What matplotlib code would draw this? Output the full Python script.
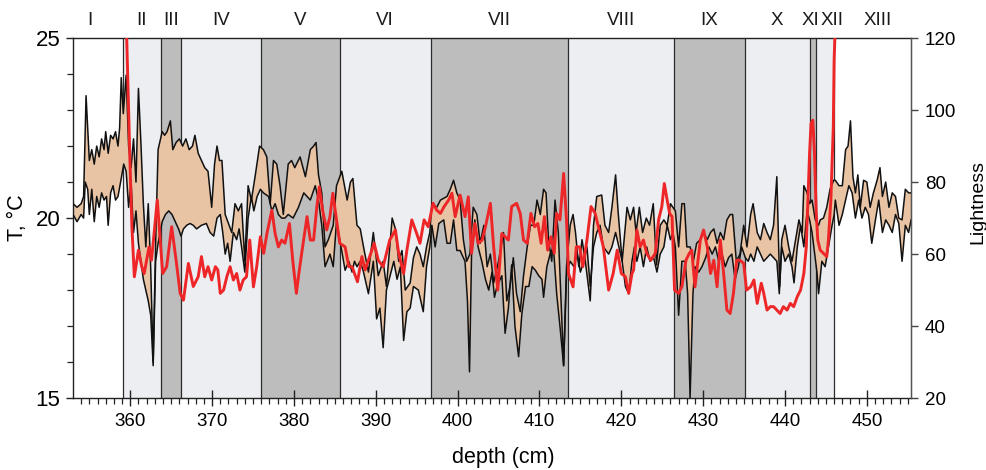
import matplotlib
matplotlib.use("Agg")
import matplotlib.pyplot as plt
import numpy as np

plt.rcParams['font.family'] = ['Liberation Sans', 'DejaVu Sans']

# Lithological / pollen zones (depth boundaries, cm)
zone_names = ['I', 'II', 'III', 'IV', 'V', 'VI', 'VII', 'VIII', 'IX', 'X', 'XI', 'XII', 'XIII']
zone_edges = [353.0, 359.1, 363.75, 366.2, 376.0, 385.6, 396.7, 413.5, 426.4, 435.1,
              443.0, 443.8, 446.0, 455.4]
zone_tone = ['none', 'light', 'dark', 'light', 'dark', 'light', 'dark', 'light', 'dark',
             'light', 'dark', 'light', 'none']

# Temperature reconstruction, upper bound (°C)
depth_hi = [353.0, 353.5, 354.0, 354.3, 354.6, 355.0, 355.3, 355.6, 355.9, 356.2, 356.5, 356.8,
            357.0, 357.3, 357.6, 357.9, 358.2, 358.5, 358.7, 358.9, 359.15, 359.5, 359.8, 360.1,
            360.4, 360.7, 361.0, 361.3, 361.6, 361.9, 362.2, 362.5, 362.8, 363.1, 363.4, 363.9,
            364.2, 364.5, 364.9, 365.2, 365.6, 366.0, 366.4, 366.8, 367.2, 367.6, 367.9, 368.3,
            368.7, 369.1, 369.5, 369.95, 370.3, 370.6, 370.9, 371.2, 371.6, 372.0, 372.4, 372.8,
            373.2, 373.6, 374.0, 374.4, 374.8, 375.25, 375.8, 376.27, 376.68, 377.1, 377.5, 377.9,
            378.3, 378.7, 379.3, 379.7, 380.1, 380.75, 381.4, 382.0, 382.4, 382.7, 383.0, 383.4,
            383.8, 384.2, 384.8, 385.2, 385.85, 386.5, 386.9, 387.2, 387.7, 388.1, 388.5, 389.1,
            389.7, 390.3, 390.9, 391.3, 392.0, 392.4, 392.8, 393.2, 393.6, 394.2, 394.6, 395.0,
            395.4, 395.8, 396.2, 396.6, 396.85, 397.45, 397.9, 398.3, 398.7, 399.1, 399.5, 399.9,
            400.3, 400.7, 401.1, 401.5, 401.9, 402.35, 402.75, 403.2, 403.6, 404.0, 404.4, 405.0,
            405.6, 406.0, 406.4, 406.8, 407.2, 407.65, 408.05, 408.5, 408.9, 409.3, 409.7, 410.1,
            410.5, 410.8, 411.1, 411.5, 411.9, 412.3, 412.6, 412.95, 413.3, 413.75, 414.1, 414.4,
            414.8, 415.2, 415.6, 416.2, 416.6, 417.0, 417.6, 418.0, 418.45, 418.85, 419.3, 419.6,
            420.1, 420.7, 421.1, 421.5, 421.8, 422.2, 422.6, 423.05, 423.45, 423.9, 424.3, 424.75,
            425.2, 425.6, 426.0, 426.3, 426.6, 427.0, 427.4, 427.7, 428.0, 428.4, 428.8, 429.2,
            429.65, 430.05, 430.5, 430.9, 431.3, 431.7, 432.1, 432.5, 432.9, 433.3, 433.6, 434.05,
            434.5, 434.95, 435.35, 435.8, 436.1, 436.6, 437.0, 437.4, 437.8, 438.2, 438.6, 439.0,
            439.35, 439.6, 440.0, 440.45, 440.85, 441.3, 441.7, 442.1, 442.3, 442.7, 443.0, 443.3,
            443.7, 444.1, 444.3, 444.7, 445.1, 445.5, 445.95, 446.15, 446.6, 447.0, 447.4, 447.7,
            448.0, 448.3, 448.6, 448.9, 449.2, 449.6, 450.0, 450.4, 450.8, 451.25, 451.6, 451.9,
            452.3, 452.7, 453.1, 453.5, 453.9, 454.3, 454.7, 455.1, 455.4]
temp_hi = [20.4, 20.3, 20.4, 20.6, 23.4, 21.6, 21.9, 21.5, 22.0, 21.7, 22.2, 21.9,
           22.4, 21.8, 22.3, 22.2, 22.4, 22.0, 22.5, 23.9, 22.9, 23.97, 22.0, 21.4,
           22.2, 21.0, 23.6, 22.1, 20.4, 19.2, 20.4, 18.6, 16.0, 19.3, 21.9, 22.4,
           22.3, 22.4, 22.7, 21.9, 22.1, 22.2, 22.0, 22.2, 21.9, 22.0, 22.3, 21.8,
           21.6, 21.4, 21.3, 20.3, 21.5, 22.0, 21.6, 21.6, 20.1, 19.85, 19.6, 20.4,
           20.2, 20.4, 18.8, 20.9, 20.5, 21.15, 22.0, 21.9, 21.7, 20.4, 21.6, 21.5,
           20.9, 20.1, 21.5, 21.6, 21.4, 21.7, 21.15, 21.9, 22.0, 22.1, 21.2, 20.7,
           19.2, 19.4, 19.8, 20.9, 21.3, 20.5, 21.0, 21.1, 19.8, 19.7, 19.2, 18.5,
           19.6, 18.4, 18.8, 18.1, 20.0, 19.7, 18.8, 19.1, 18.0, 18.2, 18.9, 19.2,
           19.0, 18.65, 19.2, 19.6, 20.4, 20.3, 20.5, 20.55, 20.6, 20.8, 21.05, 20.7,
           20.5, 19.4, 18.8, 19.0, 20.3, 20.1, 19.3, 19.8, 18.65, 19.0, 18.2, 18.8,
           19.6, 17.7, 18.1, 18.9, 17.9, 17.4, 18.4, 19.2, 19.8, 19.8, 20.5, 20.1,
           20.8, 20.7, 19.4, 18.8, 20.5, 19.6, 17.9, 15.9, 18.65, 19.8, 20.1, 19.6,
           18.65, 19.4, 18.8, 17.7, 19.8, 20.6, 20.64, 19.8, 19.6, 20.3, 21.2, 20.2,
           18.8, 20.3, 19.95, 20.3, 19.6, 20.3, 19.6, 20.0, 19.8, 20.4, 18.7, 19.8,
           19.95, 19.8, 20.4, 20.3, 20.2, 19.2, 20.4, 20.4, 19.2, 19.2, 18.8, 19.3,
           19.4, 19.6, 19.4, 19.6, 19.7, 19.3, 19.6, 19.4, 19.95, 20.1, 20.1, 18.8,
           19.0, 19.8, 19.2, 20.1, 20.4, 19.6, 19.4, 19.85, 19.6, 19.4, 19.8, 21.15,
           18.1, 19.4, 19.8, 19.2, 18.8, 19.4, 19.95, 19.6, 20.9, 20.7, 20.4, 20.5,
           19.95, 19.8, 19.95, 20.0, 20.3, 20.8, 21.05, 21.05, 20.9, 20.9, 21.9, 22.0,
           22.7, 21.15, 20.7, 21.2, 20.3, 21.05, 21.0, 20.3, 20.7, 21.05, 21.4, 20.6,
           21.0, 20.3, 20.7, 20.6, 20.0, 19.95, 20.8, 20.7, 20.7]

# Temperature reconstruction, lower bound (°C)
depth_lo = [353.0, 353.5, 354.0, 354.3, 354.5, 354.8, 355.0, 355.3, 355.6, 355.9, 356.2, 356.5,
            356.8, 357.1, 357.3, 357.6, 357.9, 358.2, 358.5, 358.9, 359.2, 359.5, 359.8, 360.1,
            360.4, 360.7, 361.0, 361.3, 361.6, 361.9, 362.2, 362.5, 362.8, 363.1, 363.4, 363.9,
            364.3, 364.7, 365.1, 365.5, 365.9, 366.2, 366.5, 366.9, 367.3, 367.7, 368.1, 368.7,
            369.3, 369.75, 370.2, 370.6, 371.0, 371.3, 371.6, 371.9, 372.2, 372.6, 373.0, 373.3,
            373.6, 374.0, 374.4, 374.8, 375.1, 375.5, 375.9, 376.27, 376.9, 377.3, 377.7, 378.1,
            378.5, 378.9, 379.3, 379.9, 380.55, 381.2, 382.0, 382.6, 383.0, 383.4, 383.8, 384.4,
            384.8, 385.2, 385.6, 386.25, 386.7, 387.1, 387.4, 387.7, 388.1, 388.5, 389.1, 389.7,
            390.1, 390.5, 390.9, 391.3, 391.75, 392.2, 392.6, 393.0, 393.4, 393.8, 394.2, 394.6,
            395.2, 395.8, 396.2, 396.6, 396.85, 397.25, 397.7, 398.3, 398.7, 399.1, 399.5, 399.9,
            400.3, 400.9, 401.2, 401.45, 401.7, 402.1, 402.5, 402.95, 403.4, 403.8, 404.2, 404.5,
            404.8, 405.4, 405.8, 406.2, 406.6, 407.0, 407.45, 407.85, 408.3, 408.7, 409.1, 409.5,
            409.9, 410.3, 410.5, 410.9, 411.3, 411.7, 412.1, 412.5, 412.95, 413.3, 413.55, 413.75,
            414.2, 414.6, 415.0, 415.4, 415.8, 416.2, 416.6, 417.0, 417.4, 417.8, 418.45, 418.85,
            419.3, 419.7, 420.1, 420.5, 420.9, 421.3, 421.6, 421.9, 422.3, 422.7, 423.1, 423.5,
            423.95, 424.35, 424.75, 425.2, 425.6, 426.0, 426.3, 426.6, 427.0, 427.4, 427.8, 428.1,
            428.4, 428.75, 429.0, 429.45, 429.85, 430.3, 430.7, 431.1, 431.5, 431.9, 432.3, 432.7,
            433.1, 433.5, 433.9, 434.3, 434.7, 435.15, 435.5, 435.8, 436.2, 436.6, 437.0, 437.4,
            437.8, 438.2, 438.6, 439.0, 439.3, 439.6, 440.0, 440.45, 440.85, 441.1, 441.5, 441.9,
            442.3, 442.7, 443.0, 443.3, 443.9, 444.1, 444.5, 444.9, 445.3, 445.75, 446.0, 446.15,
            446.6, 447.0, 447.4, 447.8, 448.2, 448.6, 449.0, 449.4, 449.8, 450.2, 450.6, 451.05,
            451.45, 451.9, 452.3, 452.7, 453.1, 453.5, 453.9, 454.3, 454.7, 455.1, 455.4]
temp_lo = [20.1, 19.9, 20.1, 20.0, 21.0, 20.8, 20.1, 20.8, 19.9, 20.6, 20.3, 20.7,
           20.5, 20.6, 19.8, 20.7, 20.9, 20.5, 20.6, 21.1, 21.5, 21.3, 20.3, 21.0,
           19.6, 20.2, 19.3, 18.8, 18.3, 18.0, 17.7, 17.3, 15.9, 18.8, 19.3, 19.9,
           20.1, 20.2, 20.1, 19.9, 19.7, 19.5, 19.7, 19.8, 19.85, 19.8, 19.7, 19.8,
           19.85, 19.6, 19.5, 20.0, 20.1, 19.6, 19.0, 19.3, 18.8, 19.6, 19.4, 19.7,
           19.2, 18.5, 20.0, 20.6, 20.2, 20.6, 20.8, 20.7, 20.6, 20.2, 20.4, 20.1,
           20.0, 20.0, 20.1, 20.0, 20.3, 20.7, 20.5, 20.9, 20.5, 19.8, 18.65, 19.0,
           18.65, 19.9, 19.4, 18.55, 18.8, 18.5, 18.8, 18.65, 18.8, 18.5, 17.9, 18.8,
           17.2, 17.5, 16.4, 18.0, 18.4, 18.8, 18.3, 18.65, 16.6, 17.4, 17.5, 18.1,
           18.0, 17.4, 18.65, 19.2, 19.8, 19.2, 19.85, 19.95, 19.3, 19.3, 19.95, 19.1,
           19.1, 18.8, 17.7, 15.73, 19.0, 19.95, 19.2, 18.8, 18.3, 18.0, 18.5, 17.8,
           18.1, 18.4, 16.8, 17.5, 18.7, 17.0, 16.15, 17.35, 18.1, 18.1, 18.65, 18.55,
           18.4, 18.3, 17.8, 18.65, 19.0, 19.2, 17.9, 17.0, 15.9, 18.4, 18.65, 18.8,
           18.65, 19.0, 18.5, 18.8, 19.2, 18.1, 19.2, 19.6, 19.8, 19.2, 19.0, 19.2,
           19.6, 19.2, 18.8, 18.1, 17.9, 18.8, 19.2, 18.8, 19.2, 18.65, 19.2, 18.8,
           18.9, 18.5, 19.0, 19.2, 19.8, 19.4, 19.6, 19.2, 17.3, 18.8, 18.8, 17.9,
           15.0, 17.9, 18.65, 18.5, 18.65, 18.9, 19.2, 19.0, 19.2, 18.8, 19.0, 18.65,
           18.9, 19.0, 18.3, 18.65, 19.2, 18.9, 18.8, 19.0, 18.8, 19.2, 19.0, 18.8,
           18.9, 19.0, 18.9, 18.8, 17.9, 19.2, 18.8, 19.0, 18.65, 18.2, 19.2, 19.8,
           19.2, 20.2, 19.95, 19.6, 18.5, 17.9, 18.8, 18.65, 19.2, 19.8, 20.1, 20.5,
           19.8, 20.1, 20.5, 20.9, 20.7, 20.0, 20.5, 20.0, 20.3, 20.1, 19.3, 19.95,
           20.5, 19.6, 19.95, 19.8, 19.6, 20.1, 19.85, 18.8, 19.8, 19.6, 19.95]

# Sediment lightness
depth_l = [359.45, 359.64, 359.96, 360.2, 360.5, 361.0, 361.4, 361.7, 362.3, 362.6, 363.3, 363.96,
           364.45, 365.06, 365.6, 366.1, 366.5, 367.1, 367.7, 368.3, 368.7, 369.1, 369.5, 369.95,
           370.4, 370.7, 371.0, 371.4, 371.8, 372.2, 372.6, 373.0, 373.4, 373.8, 374.2, 374.6,
           375.05, 375.45, 375.9, 376.3, 376.7, 377.3, 377.7, 378.1, 378.5, 378.9, 379.45, 379.85,
           380.3, 380.6, 381.0, 381.6, 382.0, 382.4, 382.8, 383.1, 383.5, 384.0, 384.4, 384.75,
           385.15, 385.6, 386.25, 386.7, 387.1, 387.76, 388.3, 388.7, 389.1, 389.8, 390.3, 390.9,
           391.7, 392.4, 392.8, 393.4, 393.8, 394.4, 395.0, 395.4, 395.9, 396.4, 397.0, 397.45,
           397.9, 398.35, 398.9, 399.3, 399.7, 400.3, 400.9, 401.3, 401.7, 402.1, 402.5, 403.0,
           403.4, 404.0, 404.4, 404.9, 405.4, 405.8, 406.2, 406.6, 407.2, 407.65, 408.05, 408.5,
           408.95, 409.4, 409.8, 410.2, 410.6, 411.0, 411.4, 411.8, 412.1, 412.5, 412.95, 413.3,
           413.55, 414.1, 414.5, 414.9, 415.3, 415.8, 416.3, 416.8, 417.2, 417.8, 418.45, 419.0,
           419.5, 420.0, 420.5, 420.9, 421.3, 421.5, 421.9, 422.3, 422.7, 423.1, 423.6, 424.15,
           424.55, 424.95, 425.25, 425.6, 425.9, 426.2, 426.5, 427.0, 427.4, 427.9, 428.3, 428.6,
           429.0, 429.65, 430.05, 430.5, 430.9, 431.3, 431.7, 432.1, 432.5, 432.9, 433.3, 433.7,
           434.1, 434.5, 434.95, 435.3, 435.8, 436.2, 436.6, 437.1, 437.4, 437.8, 438.2, 438.6,
           439.0, 439.4, 439.8, 440.25, 440.65, 441.06, 441.5, 441.9, 442.3, 442.6, 442.8, 443.0,
           443.18, 443.4, 443.6, 443.8, 444.0, 444.3, 444.7, 445.1, 445.3, 445.6, 445.9, 446.0,
           446.2]
lightness = [130.0, 113.9, 86.1, 67.6, 53.7, 61.1, 56.5, 54.6, 62.0, 58.3, 75.0, 54.6,
             56.5, 67.6, 58.3, 49.1, 47.2, 57.4, 51.0, 53.7, 59.3, 53.7, 56.5, 52.8,
             56.5, 55.6, 49.1, 50.0, 53.7, 56.5, 52.8, 54.6, 50.0, 52.8, 53.7, 63.9,
             50.9, 56.5, 64.8, 60.2, 65.7, 72.2, 65.7, 62.0, 63.9, 63.0, 68.5, 58.3,
             49.1, 54.6, 61.1, 70.4, 63.9, 63.9, 73.2, 78.7, 72.2, 66.7, 70.4, 76.9,
             70.4, 63.0, 62.0, 56.5, 56.5, 52.3, 59.3, 55.6, 58.3, 63.0, 58.3, 56.5,
             63.9, 66.7, 60.2, 54.6, 61.1, 69.5, 65.7, 63.0, 69.5, 67.6, 74.1, 72.2,
             71.3, 73.2, 75.0, 76.9, 70.4, 76.4, 70.4, 75.9, 60.2, 68.5, 63.0, 63.9,
             67.6, 74.1, 62.0, 50.0, 65.7, 64.8, 63.9, 73.2, 74.1, 71.3, 63.9, 63.0,
             71.3, 67.6, 68.5, 63.0, 70.4, 61.1, 64.8, 60.2, 71.3, 69.5, 82.4, 69.5,
             54.6, 50.9, 62.0, 62.0, 56.5, 63.9, 73.2, 71.3, 67.6, 62.0, 50.0, 54.6,
             61.1, 54.6, 53.7, 49.1, 54.6, 55.6, 66.7, 62.0, 63.9, 60.2, 58.3, 60.2,
             69.5, 73.2, 79.6, 75.0, 71.3, 70.4, 50.0, 49.1, 50.9, 58.3, 60.2, 61.1,
             50.9, 63.9, 66.7, 62.0, 54.6, 58.3, 50.9, 63.9, 54.6, 44.45, 43.5, 49.1,
             58.3, 58.3, 57.4, 50.0, 50.9, 52.8, 46.3, 51.9, 49.1, 44.45, 45.4, 45.4,
             44.45, 43.5, 45.4, 44.45, 46.3, 45.4, 48.2, 50.0, 54.6, 62.0, 75.0, 88.0,
             96.3, 97.2, 88.0, 72.2, 63.9, 61.1, 60.2, 59.3, 63.9, 75.0, 95.4, 113.9,
             127.8]

ZONE_COLORS = {'light': '#ECEEF1', 'dark': '#BDBDBD'}
EDGE = '#2b2b2b'

fig = plt.figure(figsize=(9.86, 4.70), dpi=100)
ax = fig.add_axes([0.074, 0.153, 0.850, 0.766])

# zone shading and boundaries
for i, name in enumerate(zone_names):
    x0, x1 = zone_edges[i], zone_edges[i + 1]
    tone = zone_tone[i]
    if tone != 'none':
        ax.axvspan(x0, x1, color=ZONE_COLORS[tone], lw=0, zorder=0)
for x in zone_edges[1:-1]:
    ax.axvline(x, color=EDGE, lw=0.9, zorder=1)

# zone labels above the frame
label_shift = {'I': -8, 'XI': -2, 'XII': 7, 'XIII': 5}
for i, name in enumerate(zone_names):
    xc = 0.5 * (zone_edges[i] + zone_edges[i + 1])
    ax.annotate(name, xy=(xc, 1.05), xycoords=('data', 'axes fraction'),
                xytext=(label_shift.get(name, 0) * 0.72, 0), textcoords='offset points',
                ha='center', va='center', fontsize=13.5, color='#1a1a1a')

# temperature envelope
poly_x = np.concatenate([depth_hi, depth_lo[::-1]])
poly_y = np.concatenate([temp_hi, temp_lo[::-1]])
ax.fill(poly_x, poly_y, color='#E8C3A4', lw=0, zorder=2)
ax.plot(depth_hi, temp_hi, color='#111111', lw=1.1, zorder=3)
ax.plot(depth_lo, temp_lo, color='#111111', lw=1.1, zorder=3)

ax.set_xlim(353.0, 455.4)
ax.set_ylim(15, 25)
ax.set_xticks(np.arange(360, 451, 10))
ax.set_xticks(np.arange(354, 456, 1), minor=True)
ax.set_yticks([15, 20, 25])
ax.set_yticks(np.arange(15, 26, 1), minor=True)
ax.tick_params(axis='x', which='major', direction='inout', length=12, width=1,
               labelsize=13.5, pad=5, color='#222222')
ax.tick_params(axis='x', which='minor', direction='out', length=4, width=0.9, color='#222222')
ax.tick_params(axis='y', which='major', direction='out', length=5, width=1,
               labelsize=16, pad=4, color='#222222')
ax.tick_params(axis='y', which='minor', direction='out', length=4, width=0.9, color='#222222')
ax.set_xlabel('depth (cm)', fontsize=15.5)
ax.xaxis.set_label_coords(0.514, -0.135)
ax.set_ylabel('T, °C', fontsize=15.5)
ax.yaxis.set_label_coords(-0.054, 0.5)

for side in ['left', 'bottom', 'top']:
    ax.spines[side].set_color('#222222')
    ax.spines[side].set_linewidth(1.0)

ax2 = ax.twinx()
ax2.plot(depth_l, lightness, color='#EE2628', lw=2.1, zorder=4)
ax2.set_ylim(20, 120)
ax2.set_yticks(np.arange(20, 121, 20))
ax2.tick_params(axis='y', direction='out', length=5, width=1, labelsize=13.5, pad=5,
                color='#444444')
ax2.set_ylabel('Lightness', fontsize=14, rotation=90)
ax2.yaxis.set_label_coords(1.069, 0.545)
ax2.spines['right'].set_color('#555555')
ax2.spines['right'].set_linewidth(1.0)
for side in ['left', 'bottom', 'top']:
    ax2.spines[side].set_visible(False)

fig.savefig('out.png', dpi=100)
